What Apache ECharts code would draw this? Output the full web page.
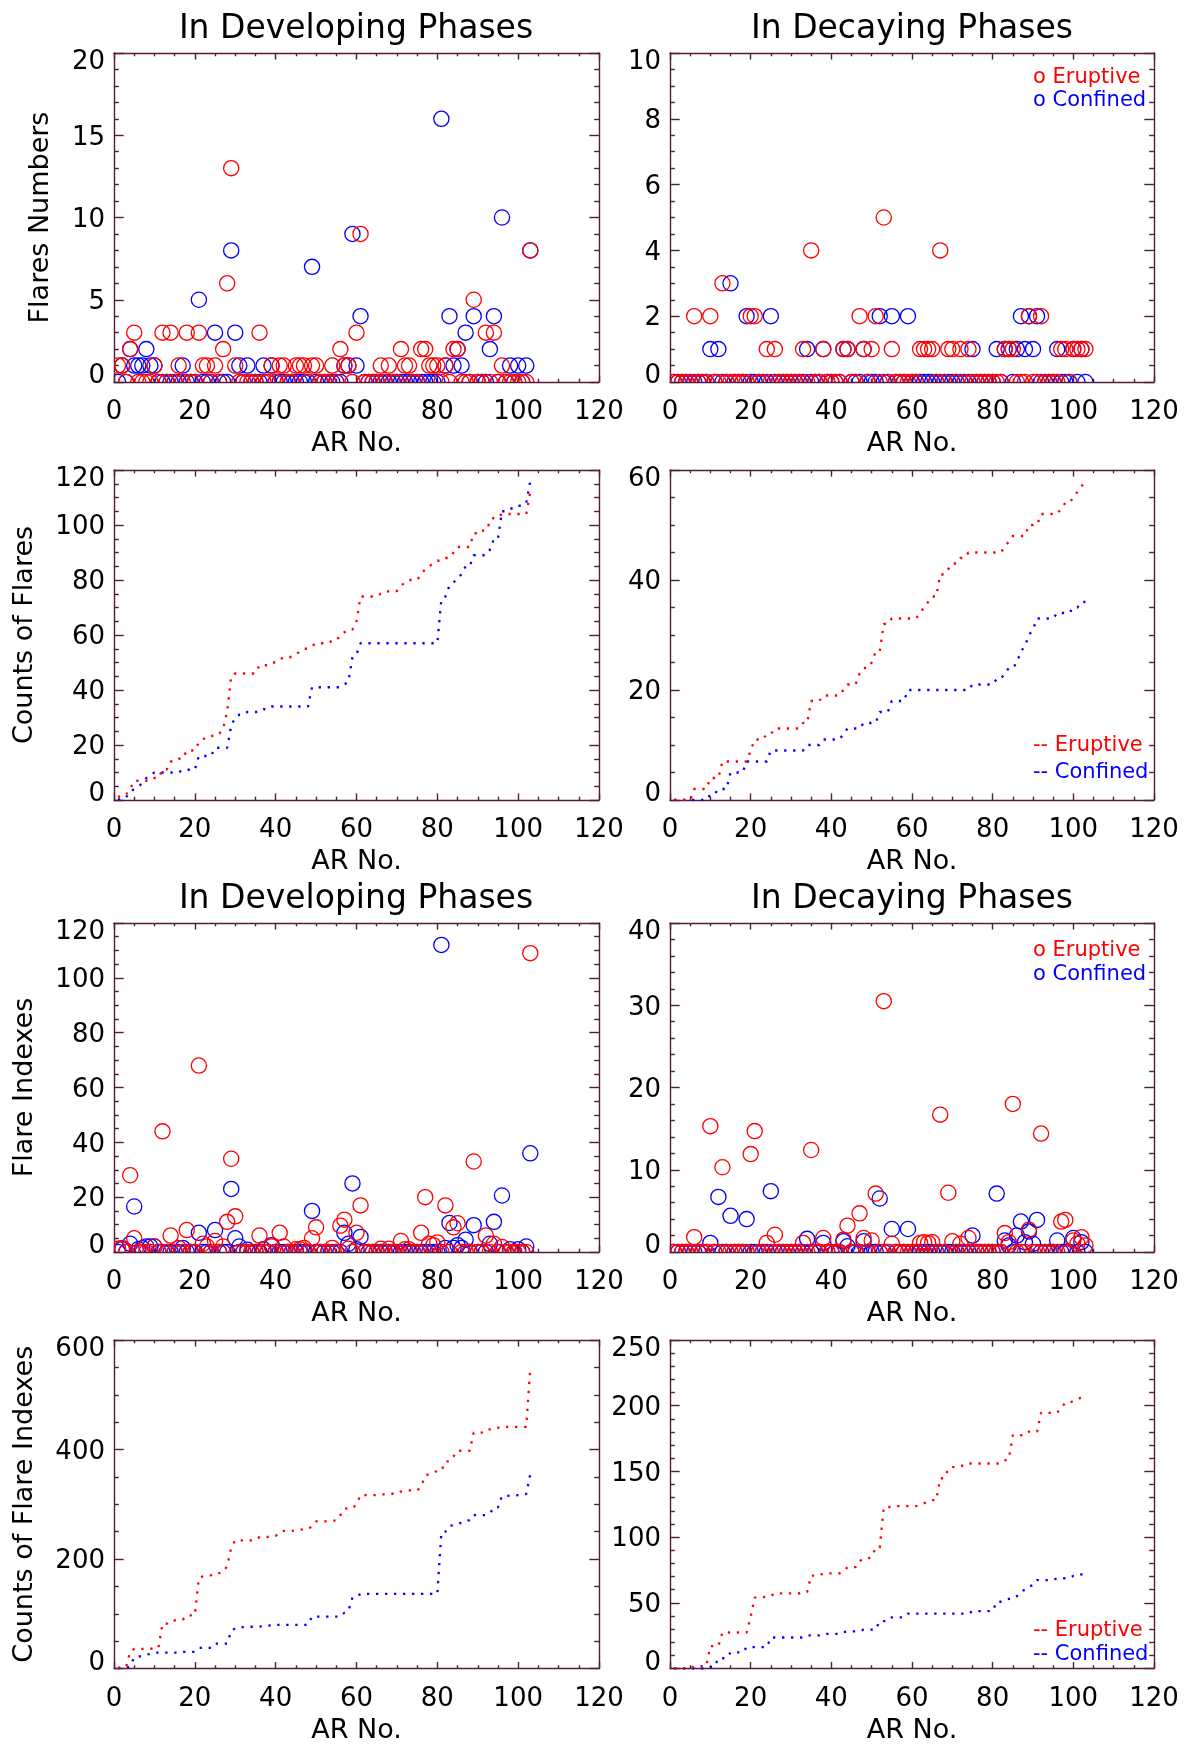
<!DOCTYPE html>
<html>
<head>
<meta charset="utf-8">
<script src="https://cdn.jsdelivr.net/npm/echarts@6/dist/echarts.min.js"></script>
<style>
  html, body { margin: 0; padding: 0; background: #ffffff; }
  #chart { width: 1187px; height: 1745px; }
</style>
</head>
<body>
<div id="chart"></div>
<script>
// ---- Per-AR values (index 0 = AR No. 1), 103 active regions ----

// Flare numbers in developing phases
const devEruptiveNum = [
  1,1,0,2,3,0,0,0,0,1,  0,3,0,3,0,1,0,3,0,0,  3,1,1,0,1,0,2,6,13,1,
  0,0,0,0,0,3,0,0,1,0,  1,1,0,0,1,1,1,0,1,1,  0,0,0,1,0,2,1,1,0,3,
  9,0,0,0,0,1,0,1,0,0,  2,1,1,0,0,2,2,1,1,1,  0,1,0,2,2,0,0,0,5,0,
  0,3,0,3,0,1,0,0,0,0,  0,0,8
];
const devConfinedNum = [
  0,1,0,2,1,1,1,2,1,1,  0,0,0,0,0,0,1,0,0,0,  5,0,0,0,3,0,0,0,8,3,
  1,0,1,0,0,0,1,0,1,0,  0,0,0,0,0,0,0,0,7,0,  0,0,0,0,0,0,1,1,9,1,
  4,0,0,0,0,0,0,0,0,0,  0,0,0,0,0,0,0,0,0,0,  16,1,4,1,2,1,3,0,4,0,
  0,0,2,4,0,10,0,1,0,1, 0,1,8
];

// Flare numbers in decaying phases
const decEruptiveNum = [
  0,0,0,0,0,2,0,0,0,2,  0,0,3,0,0,0,0,0,0,2,  2,0,0,1,0,1,0,0,0,0,
  0,0,1,0,4,0,0,1,0,0,  0,0,1,1,0,0,2,1,0,1,  2,0,5,0,1,0,0,0,0,0,
  0,1,1,1,1,0,4,0,1,1,  0,1,0,1,0,0,0,0,0,0,  0,0,1,1,1,0,0,0,2,0,
  0,2,0,0,0,0,1,1,0,1,  1,1,1
];
const decConfinedNum = [
  0,0,0,0,0,0,0,0,0,1,  0,1,0,0,3,0,0,0,2,0,  0,0,0,0,2,0,0,0,0,0,
  0,0,0,1,0,0,0,1,0,0,  0,0,1,1,0,0,0,1,0,0,  0,2,0,0,2,0,0,0,2,0,
  0,0,0,0,0,0,0,0,0,0,  0,0,0,0,1,0,0,0,0,0,  1,0,1,1,0,1,2,1,2,1,
  2,0,0,0,0,1,0,0,0,1,  0,1,0
];

// Flare indexes in developing phases
const devEruptiveIdx = [
  1.2,1.5,0,28,5,0,0,0,0,2,        0,44,0,6,0,1.5,0,8,0,0,
  68,3,2,0,4,0,2,11,34,13,         0,0,0,0,0,6,0,0,2,0,
  7,2,0,0,1,1,1.5,0,5,9,           0,0,0,1.5,0,9.6,11.8,1.2,0,7,
  17,0,0,0,0,1.2,0,1.2,0,0,        4,1,1,0,0,7,20,3,2.5,3.5,
  0,17,0,9,10.5,0,0,0,33,0,        0,6,0,3,0,1.8,0,0,0,0,
  0,0,109
];
const devConfinedIdx = [
  0,1,0,3,16.6,1,1.4,2,2,2,        0,0,0,0,0,0,1.5,0,0,0,
  7,0,0,0,8,0,0,0,23,5,            2,0,0.8,0,0,0,1,0,2.5,0,
  0,0,0,0,0,0,0,0,15,0,            0,0,0,0,0,0,7,3,25,1,
  5.5,0,0,0,0,0,0,0,0,0,           0,0,0,0,0,0,0,0,0,0,
  112,1.5,10.6,1.5,2.5,1.5,4.5,0,9.8,0,  0,0,3,11,0,20.6,0,1,0,1,
  0,2,36
];

// Flare indexes in decaying phases
const decEruptiveIdx = [
  0,0,0,0,0,1.8,0,0,0,15.3,        0,0,10.3,0,0,0,0,0,0,11.9,
  14.7,0,0,1.1,0,2.1,0,0,0,0,      0,0,1.1,0,12.4,0,0,1.7,0,0,
  0,0,1.5,3.2,0,0,4.7,1.7,0,1.4,   7.1,0,30.5,0,1,0,0,0,0,0,
  0,1.1,1.2,1.1,1.2,0,16.7,0,7.2,1.3,  0,1,0,1.7,0,0,0,0,0,0,
  0,0,2.3,1.2,18,0,0,0,2.7,0,      0,14.4,0,0,0,0,3.7,3.9,0,1.4,
  1,1.8,0.8
];
const decConfinedIdx = [
  0,0,0,0,0,0,0,0,0,1.1,           0,6.7,0,0,4.4,0,0,0,4,0,
  0,0,0,0,7.4,0,0,0,0,0,           0,0,0,1.6,0,0,0,1.1,0,0,
  0,0,1.3,0.7,0,0,0,1.3,0,0,       0,6.5,0,0,2.8,0,0,0,2.8,0,
  0,0,0,0,0,0,0,0,0,0,             0,0,0,0,2,0,0,0,0,0,
  7.1,0,1.4,0.8,0,2,3.7,1.2,2.5,1, 3.9,0,0,0,0,1.4,0,0,0,1.7,
  0,1.2,0
];

// AR numbers along the x axis
const arNumbers = Array.from({ length: devEruptiveNum.length }, (_, i) => i + 1);

// Axis text
const xAxisTitle = 'AR No.';
const titleDeveloping = 'In Developing Phases';
const titleDecaying = 'In Decaying Phases';
const legendScatter = ['o Eruptive', 'o Confined'];
const legendLines = ['-- Eruptive', '-- Confined'];

// ---- Styling ----
const FONT = 'DejaVu Sans';
const AXIS_COLOR = '#521c3a';
const RED = '#ff0000';
const BLUE = '#0000ff';

function cumulative(arr) {
  let s = 0;
  return arr.map(v => (s += v));
}

// Panel layout: plot rectangles in pixels
const panels = [
  { left: 114, top: 53,   width: 485, height: 329, yMax: 20,  yInt: 5,   yMinor: 5, name: 'Flares Numbers',          nameGap: 60, kind: 'scatter', red: devEruptiveNum, blue: devConfinedNum },
  { left: 670, top: 53,   width: 484, height: 329, yMax: 10,  yInt: 2,   yMinor: 4, name: '',                        nameGap: 0,  kind: 'scatter', red: decEruptiveNum, blue: decConfinedNum, legend: legendScatter, legendY: [77.5, 100.5] },
  { left: 114, top: 470,  width: 485, height: 330, yMax: 120, yInt: 20,  yMinor: 4, name: 'Counts of Flares',        nameGap: 76, kind: 'line',    red: devEruptiveNum, blue: devConfinedNum },
  { left: 670, top: 470,  width: 484, height: 330, yMax: 60,  yInt: 20,  yMinor: 4, name: '',                        nameGap: 0,  kind: 'line',    red: decEruptiveNum, blue: decConfinedNum, legend: legendLines, legendY: [746, 773] },
  { left: 114, top: 923,  width: 485, height: 329, yMax: 120, yInt: 20,  yMinor: 4, name: 'Flare Indexes',           nameGap: 76, kind: 'scatter', red: devEruptiveIdx, blue: devConfinedIdx },
  { left: 670, top: 923,  width: 484, height: 329, yMax: 40,  yInt: 10,  yMinor: 5, name: '',                        nameGap: 0,  kind: 'scatter', red: decEruptiveIdx, blue: decConfinedIdx, legend: legendScatter, legendY: [951, 975] },
  { left: 114, top: 1340, width: 485, height: 330, yMax: 600, yInt: 200, yMinor: 4, name: 'Counts of Flare Indexes', nameGap: 76, kind: 'line',    red: devEruptiveIdx, blue: devConfinedIdx },
  { left: 670, top: 1340, width: 484, height: 330, yMax: 250, yInt: 50,  yMinor: 5, name: '',                        nameGap: 0,  kind: 'line',    red: decEruptiveIdx, blue: decConfinedIdx, legend: legendLines, legendY: [1630.5, 1654.5] }
];

const grids = [], xAxes = [], yAxes = [], series = [], graphics = [];

const tickLine = { color: AXIS_COLOR, width: 1.4 };
const labelStyle = { fontFamily: FONT, fontSize: 26, color: '#000' };

panels.forEach((p, g) => {
  grids.push({ left: p.left, top: p.top, width: p.width, height: p.height, containLabel: false });

  const xTickLen = 0.02 * p.height;
  const yTickLen = 0.02 * p.width;

  const xBase = {
    type: 'value', gridIndex: g, min: 0, max: 120, interval: 20,
    axisLine: { show: true, onZero: false, lineStyle: { color: AXIS_COLOR, width: 1.4 } },
    axisTick: { show: true, inside: true, length: xTickLen, lineStyle: tickLine },
    minorTick: { show: true, splitNumber: 4, length: xTickLen / 2, lineStyle: tickLine },
    splitLine: { show: false }
  };
  xAxes.push(Object.assign({}, xBase, {
    position: 'bottom',
    name: xAxisTitle, nameLocation: 'middle', nameGap: 48.5,
    nameTextStyle: { fontFamily: FONT, fontSize: 27, color: '#000' },
    axisLabel: Object.assign({ show: true, margin: 17.5 }, labelStyle)
  }));
  xAxes.push(Object.assign({}, xBase, { position: 'top', axisLabel: { show: false } }));

  const yBase = {
    type: 'value', gridIndex: g, min: 0, max: p.yMax, interval: p.yInt,
    axisLine: { show: true, onZero: false, lineStyle: { color: AXIS_COLOR, width: 1.4 } },
    axisTick: { show: true, inside: true, length: yTickLen, lineStyle: tickLine },
    minorTick: { show: true, splitNumber: p.yMinor, length: yTickLen / 2, lineStyle: tickLine },
    splitLine: { show: false }
  };
  // The lowest label sits a little above its tick and the highest a little below it
  yAxes.push(Object.assign({}, yBase, {
    position: 'left',
    name: p.name, nameLocation: 'middle', nameGap: p.nameGap, nameRotate: 90,
    nameTextStyle: { fontFamily: FONT, fontSize: 27, color: '#000' },
    axisLabel: Object.assign({
      show: true, margin: 9,
      formatter: v => (v === 0 ? '{lo|0}' : (v === p.yMax ? '{hi|' + v + '}' : '{n|' + v + '}')),
      rich: {
        n:  Object.assign({ padding: [5, 0, 0, 0] }, labelStyle),
        lo: Object.assign({ padding: [0, 0, 11, 0] }, labelStyle),
        hi: Object.assign({ padding: [18, 0, 0, 0] }, labelStyle)
      }
    }, labelStyle)
  }));
  yAxes.push(Object.assign({}, yBase, { position: 'right', axisLabel: { show: false } }));

  const xi = g * 2, yi = g * 2;
  if (p.kind === 'scatter') {
    [[p.blue, BLUE], [p.red, RED]].forEach(([vals, color]) => {
      series.push({
        type: 'custom', xAxisIndex: xi, yAxisIndex: yi, clip: true, silent: true,
        data: arNumbers.map((a, i) => [a, vals[i]]),
        encode: { x: 0, y: 1 },
        renderItem: (params, api) => {
          const pt = api.coord([api.value(0), api.value(1)]);
          return {
            type: 'circle',
            shape: { cx: pt[0], cy: pt[1], r: 7.6 },
            style: { fill: 'none', stroke: color, lineWidth: 1.3 }
          };
        }
      });
    });
  } else {
    [[p.blue, BLUE], [p.red, RED]].forEach(([vals, color]) => {
      const cum = cumulative(vals);
      series.push({
        type: 'line', xAxisIndex: xi, yAxisIndex: yi, clip: true, silent: true,
        showSymbol: false, symbol: 'none',
        data: arNumbers.map((a, i) => [a, cum[i]]),
        lineStyle: { color: color, width: 2.3, type: [2.3, 6.7], cap: 'butt' }
      });
    });
  }

  if (p.legend) {
    graphics.push({ type: 'text', x: 1033, y: p.legendY[0], z: 100,
      style: { text: p.legend[0], fill: RED, font: '21px "' + FONT + '"', textVerticalAlign: 'middle' } });
    graphics.push({ type: 'text', x: 1033, y: p.legendY[1], z: 100,
      style: { text: p.legend[1], fill: BLUE, font: '21px "' + FONT + '"', textVerticalAlign: 'middle' } });
  }
});

// Column titles
[[titleDeveloping, 356, 29.5], [titleDecaying, 912, 29.5], [titleDeveloping, 356, 899.5], [titleDecaying, 912, 899.5]]
  .forEach(([t, x, y]) => {
    graphics.push({ type: 'text', x: x, y: y, z: 100,
      style: { text: t, fill: '#000', font: '33px "' + FONT + '"', textAlign: 'center', textVerticalAlign: 'middle' } });
  });

const chart = echarts.init(document.getElementById('chart'), null, { renderer: 'canvas' });
chart.setOption({
  backgroundColor: '#ffffff',
  animation: false,
  grid: grids,
  xAxis: xAxes,
  yAxis: yAxes,
  series: series,
  graphic: graphics
});
</script>
</body>
</html>
